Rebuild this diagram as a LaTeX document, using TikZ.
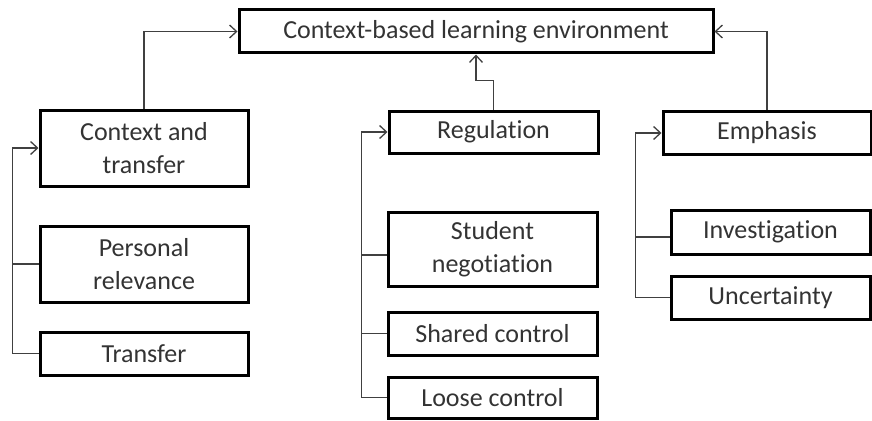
\documentclass[tikz,border=0pt]{standalone}
\usepackage{fontspec}
\setmainfont{Carlito}[Ligatures=NoCommon]
\usetikzlibrary{arrows.meta}
\definecolor{txt}{HTML}{333333}
\definecolor{conn}{HTML}{404040}
\tikzset{
  box/.style={draw=black, line width=3pt, rectangle, inner sep=0pt, align=center,
    text=txt, font=\fontsize{26}{33}\selectfont},
  link/.style={draw=conn, line width=1.3pt},
  arr/.style={link, -{Straight Barb[length=7pt,width=13pt,line width=1.3pt]}}
}
\begin{document}
\begin{tikzpicture}[x=1pt,y=-1pt]
\useasboundingbox (0,0) rectangle (872,420);
\node[box, minimum width=474pt, minimum height=43pt] (top) at (476,31.5) {Context-based learning environment};
\node[box, minimum width=208pt, minimum height=76pt] (ct) at (144,148) {Context and\\transfer};
\node[box, minimum width=208pt, minimum height=76pt] (pr) at (144,264) {Personal\\relevance};
\node[box, minimum width=208pt, minimum height=43pt] (tr) at (144,353.5) {Transfer};
\node[box, minimum width=209pt, minimum height=42pt] (reg) at (493.5,132) {Regulation};
\node[box, minimum width=209pt, minimum height=74pt] (sn) at (492.5,249) {Student\\negotiation};
\node[box, minimum width=209pt, minimum height=43pt] (sc) at (492.5,333.5) {Shared control};
\node[box, minimum width=209pt, minimum height=41pt] (lc) at (492.5,397.5) {Loose control};
\node[box, minimum width=208pt, minimum height=43pt] (em) at (767,133) {Emphasis};
\node[box, minimum width=199pt, minimum height=44pt] (inv) at (770.5,232) {Investigation};
\node[box, minimum width=199pt, minimum height=43pt] (unc) at (770.5,297.5) {Uncertainty};
% up to top
\draw[arr] (ct.north) |- (top.west);
\draw[arr] (em.north) |- (top.east);
\draw[arr] (reg.north) -- ++(0,-29) -| (top.south);
% left bus
\draw[arr] (tr.west) -- ++(-26,0) |- (ct.west);
\draw[link] (pr.west) -- ++(-26,0);
% middle bus
\draw[arr] (lc.west) -- ++(-25,0) |- (reg.west);
\draw[link] ([yshift=-6pt]sn.west) -- ++(-25,0);
\draw[link] (sc.west) -- ++(-25,0);
% right bus
\draw[arr] (unc.west) -- ++(-34,0) |- (em.west);
\draw[link] ([yshift=-5pt]inv.west) -- ++(-34,0);
\end{tikzpicture}
\end{document}
